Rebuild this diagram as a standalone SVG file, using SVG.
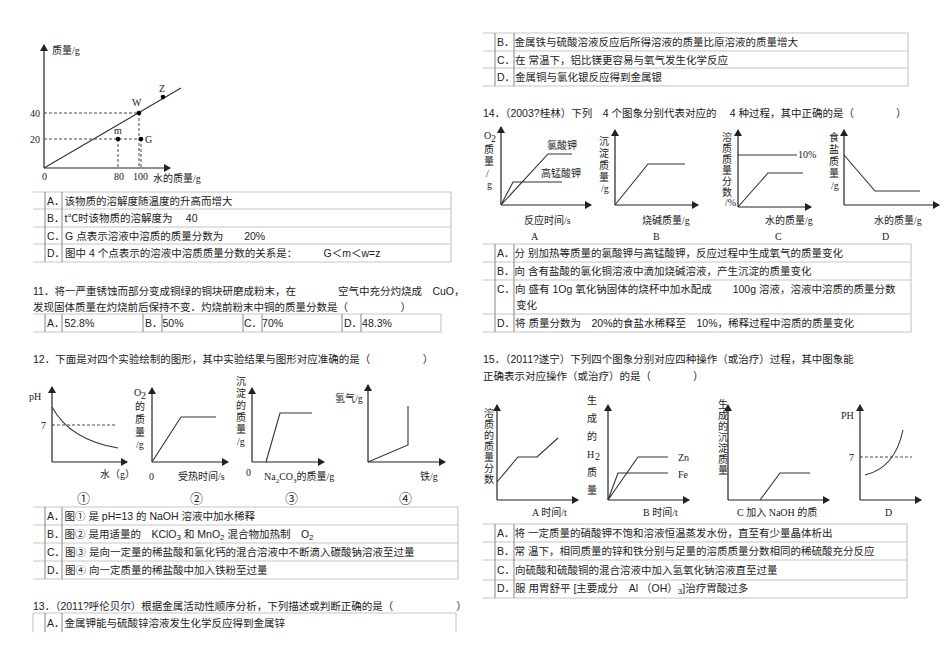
<svg xmlns="http://www.w3.org/2000/svg" width="950" height="672" viewBox="0 0 950 672">
<style>
text{font-family:"Liberation Sans","Noto Sans CJK SC",sans-serif;font-size:10.5px;fill:#222}
.s{font-family:"Liberation Serif","Noto Sans CJK SC",serif;font-size:10px}
.c{font-family:"Noto Sans CJK SC",sans-serif;font-size:13px}
.ax{fill:none;stroke:#222;stroke-width:1.2}
.ln{fill:none;stroke:#333;stroke-width:1.1}
.ds{fill:none;stroke:#333;stroke-width:0.9;stroke-dasharray:3 2}
.tb{fill:none;stroke:#c8c8c8;stroke-width:1.2}
.dv{stroke:#999;stroke-width:1.2}
</style>
<defs><marker id="a" markerWidth="8" markerHeight="8" refX="6" refY="4" orient="auto" markerUnits="userSpaceOnUse"><path d="M0,0 L7,4 L0,8 z" fill="#222"/></marker></defs>
<rect width="950" height="672" fill="#fff"/>

<g id="q10">
<path class="ax" d="M44,168 V45" marker-end="url(#a)"/><path class="ax" d="M44,168 H170" marker-end="url(#a)"/>
<path class="ln" d="M44,168 L181,88"/>
<path class="ds" d="M44,113 H139 V168 M44,139 H141 M118,139 V168 M141,139 V168"/>
<circle cx="139" cy="113" r="2.3"/><circle cx="163" cy="97" r="2.3"/><circle cx="118" cy="139" r="2.3"/><circle cx="141" cy="139" r="2.3"/>
<text class="s" x="52" y="54">质量/g</text><text class="s" x="30" y="117">40</text><text class="s" x="30" y="143">20</text>
<text class="s" x="42" y="180">0</text><text class="s" x="114" y="180">80</text><text class="s" x="133" y="180">100</text><text class="s" x="153" y="182">水的质量/g</text>
<text class="s" x="132" y="106">W</text><text class="s" x="159" y="92">Z</text><text class="s" x="114" y="134">m</text><text class="s" x="145" y="143">G</text>
<path class="tb" d="M33,192 H451 V262 H33 M33,209 H451 M33,227 H451 M33,244 H451"/><path class="dv" d="M45,192 V262 M62,192 V262"/>
<text x="47" y="205">A．该物质的溶解度随温度的升高而增大</text>
<text x="47" y="222">B．t℃时该物质的溶解度为　 40</text>
<text x="47" y="240">C．G 点表示溶液中溶质的质量分数为　　20%</text>
<text x="47" y="257">D．图中 4 个点表示的溶液中溶质质量分数的关系是：　　　G＜m＜w=z</text>
</g>

<g id="q11">
<text x="33" y="295">11．将一严重锈蚀而部分变成铜绿的铜块研磨成粉末，在　　　　空气中充分灼烧成　CuO，</text>
<text x="33" y="311">发现固体质量在灼烧前后保持不变．灼烧前粉末中铜的质量分数是（　　　　　）</text>
<path class="tb" d="M33,314 H441 V332 H33"/><path class="dv" d="M45,314 V332 M62,314 V332 M143,314 V332 M162,314 V332 M243,314 V332 M262,314 V332 M342,314 V332 M361,314 V332"/>
<text x="47" y="327">A．52.8%</text><text x="145" y="327">B．50%</text><text x="244" y="327">C．70%</text><text x="344" y="327">D．48.3%</text>
</g>

<g id="q12">
<text x="33" y="363">12．下面是对四个实验绘制的图形，其中实验结果与图形对应准确的是（　　　　　）</text>
<path class="ax" d="M52,462 V387" marker-end="url(#a)"/><path class="ax" d="M52,462 H127" marker-end="url(#a)"/>
<path class="ds" d="M52,425 H117" stroke-dasharray="2 2"/><path class="ln" d="M52,407 Q70,440 118,448"/>
<text class="s" x="29" y="400">pH</text><text class="s" x="41" y="429">7</text><text class="s" x="100" y="478">水（g）</text><text class="c" x="77" y="503">①</text>
<path class="ax" d="M152,462 V388" marker-end="url(#a)"/><path class="ax" d="M152,462 H228" marker-end="url(#a)"/>
<path class="ln" d="M152,462 L181,417 H216"/>
<text class="s" x="134" y="396">O</text><text class="s" x="141" y="399" font-size="7">2</text><text class="s" x="135" y="410">的</text><text class="s" x="135" y="423">质</text><text class="s" x="135" y="436">量</text><text class="s" x="136" y="448">/g</text>
<text class="s" x="149" y="480">0</text><text class="s" x="178" y="480">受热时间/s</text><text class="c" x="190" y="503">②</text>
<path class="ax" d="M252,462 V388" marker-end="url(#a)"/><path class="ax" d="M252,462 H324" marker-end="url(#a)"/>
<path class="ln" d="M266,462 L280,413 H312"/>
<text class="s" x="236" y="385">沉</text><text class="s" x="236" y="397">淀</text><text class="s" x="236" y="409">的</text><text class="s" x="236" y="421">质</text><text class="s" x="236" y="433">量</text><text class="s" x="237" y="445">/g</text>
<text class="s" x="246" y="476">0</text><text class="s" x="264" y="480">Na<tspan font-size="7" dy="3">2</tspan><tspan dy="-3">CO</tspan><tspan font-size="7" dy="3">3</tspan><tspan dy="-3">的质量/g</tspan></text><text class="c" x="285" y="503">③</text>
<path class="ax" d="M368,462 V385" marker-end="url(#a)"/><path class="ax" d="M368,462 H445" marker-end="url(#a)"/>
<path class="ln" d="M368,462 L408,445 V406"/>
<text class="s" x="335" y="402">氢气/g</text><text class="s" x="420" y="480">铁/g</text><text class="c" x="399" y="503">④</text>
<path class="tb" d="M33,507 H458 V579 H33 M33,525 H458 M33,543 H458 M33,561 H458"/><path class="dv" d="M45,507 V579 M62,507 V579"/>
<text x="47" y="520">A．图① 是 pH=13 的 NaOH 溶液中加水稀释</text>
<text x="47" y="538">B．图② 是用适量的　KClO<tspan font-size="8" dy="2">3</tspan><tspan dy="-2"> 和 MnO</tspan><tspan font-size="8" dy="2">2</tspan><tspan dy="-2"> 混合物加热制　O</tspan><tspan font-size="8" dy="2">2</tspan></text>
<text x="47" y="556">C．图③ 是向一定量的稀盐酸和氯化钙的混合溶液中不断滴入碳酸钠溶液至过量</text>
<text x="47" y="574">D．图④ 向一定质量的稀盐酸中加入铁粉至过量</text>
</g>

<g id="q13">
<text x="33" y="610">13．（2011?呼伦贝尔）根据金属活动性顺序分析，下列描述或判断正确的是（　　　　　　）</text>
<path class="tb" d="M33,613 H456 V632 M33,613 V632"/><path class="dv" d="M45,613 V632 M62,613 V632"/>
<text x="47" y="627">A．金属钾能与硫酸锌溶液发生化学反应得到金属锌</text>
<path class="tb" d="M483,33 H908 V86 H483 M483,51 H908 M483,68 H908"/><path class="dv" d="M495,33 V86 M514,33 V86"/>
<text x="497" y="46">B．金属铁与硫酸溶液反应后所得溶液的质量比原溶液的质量增大</text>
<text x="497" y="64">C．在 常温下，铝比镁更容易与氧气发生化学反应</text>
<text x="497" y="81">D．金属铜与氯化银反应得到金属银</text>
</g>

<g id="q14">
<text x="483" y="117">14．（2003?桂林）下列　4 个图象分别代表对应的　  4 种过程，其中正确的是（　　　　）</text>
<path class="ax" d="M501,205 V127" marker-end="url(#a)"/><path class="ax" d="M501,205 H591" marker-end="url(#a)"/>
<path class="ln" d="M501,205 L513,182 H562 M501,205 L548,154 H572"/>
<text class="s" x="547" y="149">氯酸钾</text><text class="s" x="541" y="177">高锰酸钾</text>
<text class="s" x="484" y="139">O</text><text class="s" x="491" y="142" font-size="7">2</text><text class="s" x="484" y="153">质</text><text class="s" x="484" y="165">量</text><text class="s" x="486" y="177">/</text><text class="s" x="487" y="188">g</text>
<text class="s" x="524" y="224">反应时间/s</text><text class="s" x="531" y="240" font-size="8">A</text>
<path class="ax" d="M615,205 V130" marker-end="url(#a)"/><path class="ax" d="M615,205 H698" marker-end="url(#a)"/>
<path class="ln" d="M615,205 L648,164 H685"/>
<text class="s" x="599" y="145">沉</text><text class="s" x="599" y="157">淀</text><text class="s" x="599" y="169">质</text><text class="s" x="599" y="181">量</text><text class="s" x="601" y="192">/g</text>
<text class="s" x="642" y="224">烧碱质量/g</text><text class="s" x="653" y="240" font-size="8">B</text>
<path class="ax" d="M738,207 V130" marker-end="url(#a)"/><path class="ax" d="M738,207 H811" marker-end="url(#a)"/>
<path class="ln" d="M738,155 H797 M738,207 L768,173 H803"/><text class="s" x="798" y="158" font-size="8">10%</text>
<text class="s" x="722" y="141">溶</text><text class="s" x="722" y="152">质</text><text class="s" x="722" y="163">质</text><text class="s" x="722" y="174">量</text><text class="s" x="722" y="185">分</text><text class="s" x="722" y="196">数</text><text class="s" x="725" y="206" font-size="7">/%</text>
<text class="s" x="765" y="224">水的质量/g</text><text class="s" x="775" y="240" font-size="8">C</text>
<path class="ax" d="M844,205 V130" marker-end="url(#a)"/><path class="ax" d="M844,205 H939" marker-end="url(#a)"/>
<path class="ln" d="M844,155 L875,191 H920"/>
<text class="s" x="829" y="141">食</text><text class="s" x="829" y="153">盐</text><text class="s" x="829" y="165">质</text><text class="s" x="829" y="177">量</text><text class="s" x="831" y="189">/g</text>
<text class="s" x="874" y="224">水的质量/g</text><text class="s" x="882" y="240" font-size="8">D</text>
<path class="tb" d="M483,244 H911 V332 H483 M483,262 H911 M483,280 H911 M483,314 H911"/><path class="dv" d="M495,244 V332 M514,244 V332"/>
<text x="497" y="257">A．分 别加热等质量的氯酸钾与高锰酸钾，反应过程中生成氧气的质量变化</text>
<text x="497" y="275">B．向 含有盐酸的氯化铜溶液中滴加烧碱溶液，产生沉淀的质量变化</text>
<text x="497" y="293">C．向 盛有 1Og 氧化钠固体的烧杯中加水配成　　100g 溶液，溶液中溶质的质量分数</text>
<text x="516" y="309">变化</text>
<text x="497" y="327">D．将 质量分数为　20%的食盐水稀释至　10%，稀释过程中溶质的质量变化</text>
</g>

<g id="q15">
<text x="483" y="363">15．（2011?遂宁）下列四个图象分别对应四种操作（或治疗）过程，其中图象能</text>
<text x="483" y="380">正确表示对应操作（或治疗）的是（　　　　）</text>
<path class="ax" d="M497,500 V405" marker-end="url(#a)"/><path class="ax" d="M497,500 H578" marker-end="url(#a)"/>
<path class="ln" d="M497,482 L518,457 H537 L558,438"/>
<text class="s" x="484" y="417" font-size="11">溶</text><text class="s" x="484" y="428" font-size="11">质</text><text class="s" x="484" y="439" font-size="11">的</text><text class="s" x="484" y="450" font-size="11">质</text><text class="s" x="484" y="461" font-size="11">量</text><text class="s" x="484" y="472" font-size="11">分</text><text class="s" x="484" y="483" font-size="11">数</text>
<text class="s" x="532" y="516">A  时间/t</text>
<path class="ax" d="M608,500 V405" marker-end="url(#a)"/><path class="ax" d="M608,500 H689" marker-end="url(#a)"/>
<path class="ln" d="M608,500 L638,457 H668 M608,500 L618,473 H668"/>
<text class="s" x="678" y="461" font-size="11">Zn</text><text class="s" x="678" y="478" font-size="11">Fe</text>
<text class="s" x="587" y="404" font-size="12">生</text><text class="s" x="587" y="422" font-size="12">成</text><text class="s" x="587" y="440" font-size="12">的</text><text class="s" x="587" y="458" font-size="11">H</text><text class="s" x="595" y="460" font-size="7">2</text><text class="s" x="587" y="476" font-size="12">质</text><text class="s" x="587" y="494" font-size="12">量</text>
<text class="s" x="643" y="516">B  时间/t</text>
<path class="ax" d="M728,500 V405" marker-end="url(#a)"/><path class="ax" d="M728,500 H829" marker-end="url(#a)"/>
<path class="ln" d="M760,500 L780,473 H810"/>
<text class="s" x="718" y="408" font-size="11">生</text><text class="s" x="718" y="419" font-size="11">成</text><text class="s" x="718" y="430" font-size="11">的</text><text class="s" x="718" y="441" font-size="11">沉</text><text class="s" x="718" y="452" font-size="11">淀</text><text class="s" x="718" y="463" font-size="11">质</text><text class="s" x="718" y="474" font-size="11">量</text>
<text class="s" x="737" y="516" font-size="11">C 加入 NaOH 的质</text>
<path class="ax" d="M860,500 V405" marker-end="url(#a)"/><path class="ax" d="M860,500 H921" marker-end="url(#a)"/>
<path class="ds" d="M860,457 H912" stroke-dasharray="2 1.5"/><path class="ln" d="M865,475 Q895,468 903,430"/>
<text class="s" x="841" y="419">PH</text><text class="s" x="849" y="461">7</text><text class="s" x="885" y="516" font-size="8">D</text>
<path class="tb" d="M483,524 H907 V598 H483 M483,542 H907 M483,560 H907 M483,580 H907"/><path class="dv" d="M495,524 V598 M514,524 V598"/>
<text x="497" y="537">A．将 一定质量的硝酸钾不饱和溶液恒温蒸发水份，直至有少量晶体析出</text>
<text x="497" y="555">B．常 温下，相同质量的锌和铁分别与足量的溶质质量分数相同的稀硫酸充分反应</text>
<text x="497" y="574">C．向硫酸和硫酸铜的混合溶液中加入氢氧化钠溶液直至过量</text>
<text x="497" y="592">D．服 用胃舒平 [主要成分　Al （OH）<tspan font-size="8" dy="2">3</tspan><tspan dy="-2">]治疗胃酸过多</tspan></text>
</g>
</svg>
